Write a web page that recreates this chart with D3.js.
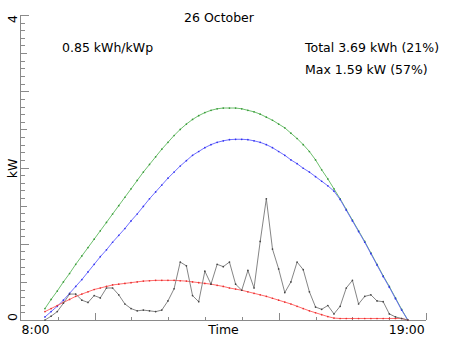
<!DOCTYPE html>
<html><head><meta charset="utf-8">
<script src="https://cdn.jsdelivr.net/npm/d3@7/dist/d3.min.js"></script>
<style>body{margin:0;background:#fff}svg{display:block;font-family:"DejaVu Sans",sans-serif}</style>
</head><body><svg id="c" width="452" height="339"></svg>
<script>
const title = "26 October";
const infoLeft = "0.85 kWh/kWp";
const infoRight = ["Total 3.69 kWh (21%)", "Max 1.59 kW (57%)"];
const yTitle = "kW";
const xTitle = "Time";
const startHour = 8.25, endHour = 19.0, nSamples = 60;
const xLabelHours = [8, 19];
const xLabelText = ["8:00", "19:00"];
const yLabelValues = [0, 4];
const yLabelText = ["0", "4"];

const measured = [0.00,0.05,0.11,0.22,0.34,0.34,0.26,0.23,0.32,0.29,
  0.42,0.42,0.33,0.21,0.15,0.12,0.13,0.12,0.11,0.13,
  0.25,0.41,0.76,0.71,0.32,0.24,0.64,0.47,0.73,0.70,
  0.76,0.47,0.39,0.65,0.42,1.03,1.59,0.93,0.67,0.36,
  0.50,0.76,0.66,0.37,0.17,0.14,0.19,0.08,0.18,0.42,
  0.52,0.21,0.31,0.33,0.25,0.24,0.08,0.04,0.02,0.00];
const clearSky = [0.15,0.27,0.38,0.50,0.61,0.73,0.84,0.95,1.06,1.17,
  1.28,1.39,1.50,1.61,1.72,1.83,1.94,2.04,2.14,2.24,
  2.33,2.42,2.50,2.57,2.63,2.68,2.72,2.75,2.77,2.78,
  2.78,2.78,2.77,2.75,2.73,2.70,2.66,2.62,2.57,2.52,
  2.45,2.38,2.30,2.21,2.10,1.97,1.85,1.72,1.59,1.45,
  1.31,1.17,1.03,0.88,0.73,0.58,0.44,0.29,0.14,0.00];
const expected = [0.04,0.11,0.18,0.26,0.35,0.44,0.53,0.63,0.73,0.83,
  0.92,1.02,1.11,1.20,1.30,1.39,1.49,1.59,1.68,1.77,
  1.86,1.94,2.02,2.09,2.16,2.21,2.26,2.30,2.33,2.35,
  2.365,2.37,2.37,2.365,2.35,2.33,2.30,2.26,2.21,2.16,
  2.10,2.05,1.99,1.94,1.88,1.82,1.76,1.69,1.58,1.44,
  1.30,1.16,1.02,0.87,0.72,0.57,0.43,0.28,0.13,0.00];
const diffuse = [0.11,0.15,0.19,0.23,0.27,0.31,0.34,0.37,0.40,0.42,
  0.44,0.46,0.47,0.48,0.49,0.50,0.51,0.515,0.52,0.52,
  0.52,0.52,0.515,0.51,0.50,0.49,0.48,0.47,0.455,0.44,
  0.42,0.405,0.39,0.37,0.35,0.33,0.31,0.285,0.26,0.235,
  0.21,0.18,0.15,0.12,0.095,0.07,0.045,0.025,0.02,0.02,
  0.02,0.02,0.02,0.02,0.02,0.02,0.02,0.02,0.02,0.00];

const times = d3.range(nSamples).map(j => startHour + j * (endHour - startHour) / (nSamples - 1));

const svg = d3.select("#c");
const x = d3.scaleLinear().domain([7.54, 19.54]).range([21, 426]);
const y = d3.scaleLinear().domain([0, 4]).range([320, 15]);
const axisColor = "#8a8a8a";

// axes
const g = svg.append("g");
g.append("line").attr("x1", x.range()[0]).attr("x2", x.range()[1]).attr("y1", y(0)+0.5).attr("y2", y(0)+0.5).attr("stroke", axisColor);
g.append("line").attr("x1", 20.5).attr("x2", 20.5).attr("y1", y(4)).attr("y2", y(0)+1).attr("stroke", axisColor);
// y ticks
d3.range(0, 41).forEach(k => {
  const v = k / 10;
  const len = (k % 10 === 0) ? 8 : (k % 5 === 0 ? 6 : 4);
  g.append("line").attr("x1", 21).attr("x2", 21 + len)
    .attr("y1", Math.round(y(v)) + 0.5).attr("y2", Math.round(y(v)) + 0.5).attr("stroke", axisColor);
});
// x ticks
const xd = x.domain();
d3.range(1, 12).forEach(i => {
  const h = xd[0] + i * (xd[1] - xd[0]) / 11;
  const len = (i === 2 || i === 7 || i === 11) ? 7 : 3;
  const px = Math.round(x(h)) + 0.5;
  g.append("line").attr("x1", px).attr("x2", px).attr("y1", y(0)).attr("y2", y(0) - len).attr("stroke", axisColor);
});

// labels
const fs = "12.5px";
xLabelHours.forEach((h, i) => {
  svg.append("text").attr("x", x(h) - 1).attr("y", 334).attr("text-anchor", "middle")
    .attr("font-size", fs).text(xLabelText[i]);
});
svg.append("text").attr("x", (x.range()[0] + x.range()[1]) / 2).attr("y", 334).attr("text-anchor", "middle")
  .attr("font-size", fs).text(xTitle);
yLabelValues.forEach((v, i) => {
  const cy = v === 0 ? y(v) - 3 : y(v) + 4;
  svg.append("text").attr("transform", `translate(17,${cy}) rotate(-90)`).attr("text-anchor", "middle")
    .attr("font-size", fs).text(yLabelText[i]);
});
svg.append("text").attr("transform", `translate(17,${y(2) + 1}) rotate(-90)`).attr("text-anchor", "middle")
  .attr("font-size", fs).text(yTitle);
svg.append("text").attr("x", 219).attr("y", 22).attr("text-anchor", "middle").attr("font-size", fs).text(title);
svg.append("text").attr("x", 62).attr("y", 52).attr("font-size", fs).text(infoLeft);
infoRight.forEach((t, i) => {
  svg.append("text").attr("x", 305).attr("y", 52 + i * 22).attr("font-size", fs).text(t);
});

// series
const line = d3.line().x((d, i) => x(times[i])).y(d => y(d));
const series = [
  {v: clearSky, c: "#5cb85c", m: "#3a9a3a"},
  {v: expected, c: "#6060ff", m: "#3333ee"},
  {v: diffuse, c: "#ff5a5a", m: "#e83030"},
  {v: measured, c: "#777777", m: "#444444"}
];
series.forEach(s => {
  svg.append("path").datum(s.v).attr("d", line).attr("fill", "none").attr("stroke", s.c).attr("stroke-width", 0.9);
  svg.append("g").selectAll("circle").data(s.v).join("circle")
    .attr("cx", (d, i) => x(times[i])).attr("cy", d => y(d)).attr("r", 0.85).attr("fill", s.m);
});
</script>
</body></html>
